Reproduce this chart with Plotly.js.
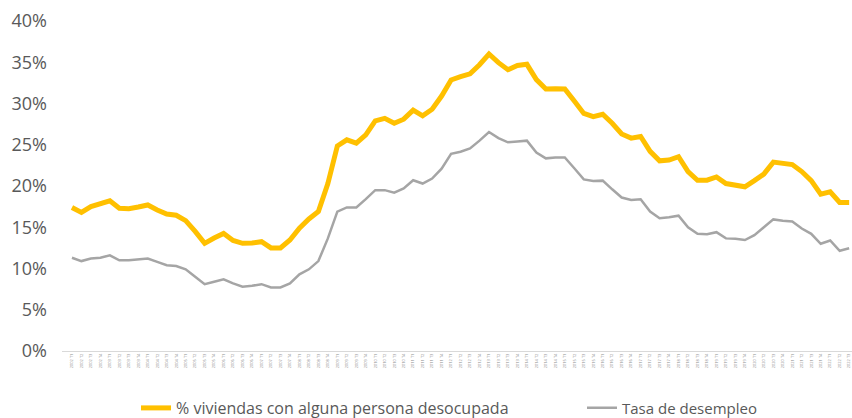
<!DOCTYPE html>
<html>
<head>
<meta charset="utf-8">
<script src="https://cdn.plot.ly/plotly-3.0.1.min.js"></script>
<style>html,body{margin:0;padding:0;background:#fff;}#chart{width:852px;height:418px;}</style>
</head>
<body>
<div id="chart"></div>
<script>
// Quarter labels 2002 T1 .. 2022 T3
const years = [2002,2003,2004,2005,2006,2007,2008,2009,2010,2011,2012,2013,2014,2015,2016,2017,2018,2019,2020,2021,2022];
const quarters = ["T1","T2","T3","T4"];
const labels = [];
years.forEach(y => quarters.forEach(q => { if (!(y === 2022 && q === "T4")) labels.push(y + " " + q); }));

const viviendas = [17.4,16.8,17.5,17.8,18.2,17.3,17.25,17.45,17.7,17.1,
  16.6,16.45,15.8,14.5,13.05,13.7,14.25,13.4,13.05,13.1,
  13.25,12.5,12.5,13.45,14.9,16.0,16.9,20.3,24.85,25.6,
  25.2,26.2,27.9,28.2,27.6,28.1,29.2,28.5,29.3,30.9,
  32.85,33.25,33.6,34.7,36.0,34.95,34.1,34.6,34.75,32.9,
  31.75,31.8,31.75,30.3,28.8,28.4,28.7,27.6,26.3,25.8,
  26.0,24.2,23.05,23.15,23.55,21.75,20.7,20.7,21.1,20.3,
  20.05,19.9,20.65,21.45,22.9,22.8,22.6,21.75,20.65,19.0,
  19.3,18.0,18.0];
const desempleo = [11.3,10.9,11.2,11.3,11.6,11.0,11.0,11.1,11.2,10.8,
  10.4,10.3,9.9,9.0,8.1,8.4,8.7,8.2,7.8,7.9,
  8.1,7.7,7.7,8.2,9.3,9.9,10.9,13.65,16.9,17.4,
  17.4,18.4,19.5,19.5,19.2,19.7,20.7,20.3,20.9,22.1,
  23.9,24.15,24.55,25.5,26.55,25.8,25.3,25.4,25.5,24.05,
  23.35,23.45,23.45,22.15,20.8,20.6,20.65,19.6,18.6,18.3,
  18.4,16.9,16.1,16.2,16.4,15.0,14.2,14.15,14.4,13.65,
  13.6,13.45,14.05,15.0,15.95,15.8,15.7,14.85,14.2,13.0,
  13.4,12.15,12.45];
const yTicks = [0,5,10,15,20,25,30,35,40];

const traces = [
  {x: labels, y: viviendas, type: 'scatter', mode: 'lines', name: '% viviendas con alguna persona desocupada',
   line: {color: '#FFC000', width: 5, shape: 'linear'}, legend: 'legend'},
  {x: labels, y: desempleo, type: 'scatter', mode: 'lines', name: 'Tasa de desempleo',
   line: {color: '#A5A5A5', width: 2.5}, legend: 'legend2'}
];

const legendBase = {orientation: 'h', xref: 'container', yref: 'container', xanchor: 'left', yanchor: 'middle',
  y: 10/418, font: {size: 16, color: '#595959'}, bgcolor: 'rgba(0,0,0,0)'};

const layout = {
  width: 852, height: 418,
  margin: {l: 62, r: 0, t: 21, b: 67},
  paper_bgcolor: '#fff', plot_bgcolor: '#fff',
  font: {family: '"Open Sans", sans-serif', color: '#595959'},
  showlegend: true,
  legend: Object.assign({}, legendBase, {x: 136/852}),
  legend2: Object.assign({}, legendBase, {x: 582/852, font: {size: 15, color: '#595959'}}),
  xaxis: {type: 'category', range: [-1.05, 82.3], tickmode: 'array', tickvals: labels, ticktext: labels,
          tickangle: -90, tickfont: {size: 4, color: '#8c8c8c'}, showgrid: false, zeroline: false,
          showline: true, linecolor: '#d9d9d9', linewidth: 1, ticks: '', fixedrange: true, automargin: false},
  yaxis: {range: [0, 40], tickmode: 'array', tickvals: yTicks, ticktext: yTicks.map(v => v + '%'),
          tickfont: {size: 18, color: '#595959'}, showgrid: false, zeroline: false, showline: false,
          ticks: '', ticklabelstandoff: 14, automargin: false}
};

Plotly.newPlot('chart', traces, layout, {staticPlot: true, displayModeBar: false});
</script>
</body>
</html>
